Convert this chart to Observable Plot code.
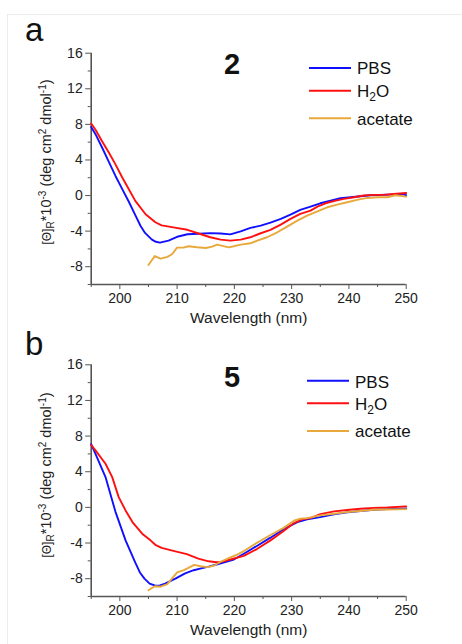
<!DOCTYPE html>
<html><head><meta charset="utf-8">
<script src="https://cdn.jsdelivr.net/npm/d3@7"></script>
<script src="https://cdn.jsdelivr.net/npm/@observablehq/plot@0.6"></script>
<style>
body{margin:0;background:#fff;}
#fig{position:relative;width:462px;height:644px;overflow:hidden;font-family:"Liberation Sans",Arial,sans-serif;}
#border{position:absolute;left:7px;top:14px;width:470px;height:640px;border-left:1px solid #ececec;border-top:1px solid #ececec;}
.panel{position:absolute;left:0;}
</style></head><body><div id="fig"><div id="border"></div></div>
<script>
// ---- data ----
const seriesNames = ["PBS", "H2O", "acetate"];
const seriesColors = ["#1010ff", "#ff1010", "#e8a83a"];
const xMajorTicks = [200, 210, 220, 230, 240, 250];
const xMinorTicks = [195, 205, 215, 225, 235, 245];
const yMajorTicks = [-8, -4, 0, 4, 8, 12, 16];
const yMinorTicks = [-10, -6, -2, 2, 6, 10, 14];
const panelLetters = ["a", "b"];
const compoundLabels = ["2", "5"];

// panel a (compound 2)
const wl_pbs_2 = [195,195.75,196.9,198.1,199.24,200.4,201.57,202.7,203.6,204.4,205.6,206.3,207.0,208.5,210.2,211.8,213.7,215.8,217.6,219.3,221.1,222.8,224.6,226.3,228.1,229.8,231.5,233.3,235.0,236.8,238.5,240.3,242.0,243.8,245.5,247.3,249.0,250];
const cd_pbs_2 = [7.7,6.9,5.4,3.75,2.2,0.75,-0.7,-2.2,-3.4,-4.2,-4.95,-5.2,-5.3,-5.06,-4.6,-4.35,-4.3,-4.22,-4.26,-4.36,-4.02,-3.64,-3.38,-3.04,-2.63,-2.14,-1.62,-1.24,-0.87,-0.57,-0.31,-0.19,-0.08,0.03,0.07,0.11,0.18,0.05];
const wl_h2o_2 = [195,195.75,196.9,198.1,199.24,200.4,201.57,202.7,204.5,206.2,207.3,209.6,211.8,214.3,215.8,217.6,219.3,221.1,222.8,224.6,226.3,228.1,229.8,231.5,233.3,234.5,235.9,237.7,239.1,240.9,242.6,244.4,246.1,247.8,250];
const cd_h2o_2 = [8.1,7.4,6.1,4.8,3.5,2.05,0.7,-0.6,-2.1,-3.0,-3.35,-3.6,-3.85,-4.38,-4.69,-4.96,-5.07,-4.96,-4.69,-4.24,-3.87,-3.27,-2.63,-2.07,-1.69,-1.24,-0.87,-0.57,-0.38,-0.19,0,0.07,0.07,0.18,0.29];
const wl_ace_2 = [205.0,206.1,207.1,208.3,209.1,210.0,211.1,212.0,213.5,215.0,216.1,217.0,217.9,219.0,219.9,221.1,222.8,224.0,225.7,227.5,229.2,231.0,232.7,234.5,236.2,237.95,239.7,241.4,243.2,244.9,246.7,248.1,250];
const cd_ace_2 = [-7.8,-6.8,-7.1,-6.9,-6.6,-5.85,-5.85,-5.7,-5.82,-5.9,-5.75,-5.52,-5.65,-5.82,-5.7,-5.52,-5.37,-5.07,-4.69,-4.13,-3.49,-2.82,-2.26,-1.77,-1.32,-1.02,-0.76,-0.49,-0.27,-0.19,-0.19,0.03,-0.12];

// panel b (compound 5)
const wl_pbs_5 = [195,195.75,197.5,199.24,201.0,202.7,203.5,204.3,205.2,206.2,207.0,207.9,209.7,211.4,212.9,214.2,215.5,217.2,219.9,221.65,224.0,226.3,228.6,231.0,232.7,235.0,237.4,239.7,242.0,244.3,246.7,250];
const cd_pbs_5 = [7.1,6.0,3.4,-0.5,-3.7,-6.2,-7.3,-8.0,-8.55,-8.78,-8.75,-8.56,-8.0,-7.4,-7.05,-6.85,-6.65,-6.35,-5.85,-5.2,-4.3,-3.4,-2.45,-1.65,-1.35,-1.09,-0.79,-0.56,-0.41,-0.26,-0.19,-0.11];
const wl_h2o_5 = [195,195.75,197.5,198.67,199.8,201.0,202.2,203.9,205.35,206.2,207.3,209.7,211.7,213.7,215.5,216.9,217.5,219.3,221.65,224.0,226.3,228.6,230.4,231.8,233.3,235.0,237.4,239.7,242.0,244.3,246.7,250];
const cd_h2o_5 = [7.0,6.4,4.9,3.4,1.15,-0.34,-1.65,-2.95,-3.7,-4.2,-4.55,-4.93,-5.25,-5.75,-6.05,-6.15,-6.15,-5.85,-5.45,-4.65,-3.7,-2.65,-1.76,-1.35,-1.2,-0.75,-0.45,-0.3,-0.15,-0.05,-0.02,0.11];
const wl_ace_5 = [205.0,206.1,207.1,208.3,210.0,211.2,213.0,214.1,215.3,216.4,217.6,219.3,220.5,221.65,224.0,226.3,228.6,230.4,231.5,232.7,235.0,237.4,239.7,242.0,244.3,246.7,250];
const cd_ace_5 = [-9.3,-8.85,-8.9,-8.6,-7.3,-7.05,-6.45,-6.6,-6.7,-6.55,-6.1,-5.6,-5.3,-4.9,-3.95,-3.1,-2.3,-1.5,-1.27,-1.2,-0.9,-0.71,-0.53,-0.41,-0.26,-0.23,-0.19];

// ---- drawing ----
const FONT = '"Liberation Sans", Arial, sans-serif';

function rows(name, wl, cd) { return wl.map((x, i) => ({x, y: cd[i], name})); }

function panel(cfg) {
  const data = [
    ...rows("PBS", cfg.wl[0], cfg.cd[0]),
    ...rows("H2O", cfg.wl[1], cfg.cd[1]),
    ...rows("acetate", cfg.wl[2], cfg.cd[2])
  ];
  const svg = Plot.plot({
    width: 462, height: cfg.height,
    marginLeft: 90.7, marginRight: 56.3, marginTop: cfg.mt, marginBottom: cfg.mb,
    style: {fontFamily: FONT, fontSize: "14px", color: "#222", background: "transparent", overflow: "visible"},
    x: {domain: [195, 250]},
    y: {domain: [-10, 16]},
    color: {domain: seriesNames, range: seriesColors},
    marks: [
      Plot.axisY({ticks: yMajorTicks, tickSize: 5.5, tickPadding: 3, label: null, stroke: "#555", tickFormat: d => String(d)}),
      Plot.axisY({ticks: yMinorTicks, tickSize: 3, text: null, label: null, stroke: "#555"}),
      Plot.axisX({ticks: xMajorTicks, tickSize: 5, tickPadding: 4, label: null, stroke: "#555", tickFormat: d => String(d)}),
      Plot.axisX({ticks: xMinorTicks, tickSize: 3, text: null, label: null, stroke: "#555"}),
      Plot.ruleX([195], {stroke: "#555", strokeWidth: 1.6}),
      Plot.ruleY([-10], {stroke: "#555", strokeWidth: 1.6}),
      Plot.line(data, {x: "x", y: "y", z: "name", stroke: "name", strokeWidth: 1.9}),
      Plot.text(["Wavelength (nm)"], {frameAnchor: "bottom", dy: 38, text: d => d, fontSize: 15.5, fill: "#222", lineAnchor: "bottom"})
    ]
  });
  const s = d3.select(svg);
  // panel letter
  s.append("text").attr("x", 25).attr("y", cfg.letterY).attr("text-anchor", "start").attr("font-size", 33).attr("font-family", FONT).attr("fill", "#111").text(cfg.letter);
  // compound number
  s.append("text").attr("x", 232).attr("y", cfg.numY).attr("text-anchor", "middle").attr("font-size", 29).attr("font-weight", "bold").attr("font-family", FONT).attr("fill", "#111").text(cfg.num);
  // y label
  const yl = s.append("text").attr("transform", `translate(51,${cfg.ylY}) rotate(-90)`).attr("text-anchor", "middle")
    .attr("font-size", 14.5).attr("font-family", FONT).attr("fill", "#222");
  yl.append("tspan").attr("font-size", 12).text("[\u0398]");
  yl.append("tspan").attr("dy", 3).attr("font-size", 10).text("R");
  yl.append("tspan").attr("dy", -3).text("*10");
  yl.append("tspan").attr("dy", -5.5).attr("font-size", 10).text("-3");
  yl.append("tspan").attr("dy", 5.5).text(" (deg cm");
  yl.append("tspan").attr("dy", -5.5).attr("font-size", 10).text("2");
  yl.append("tspan").attr("dy", 5.5).text(" dmol");
  yl.append("tspan").attr("dy", -5.5).attr("font-size", 10).text("-1");
  yl.append("tspan").attr("dy", 5.5).text(")");
  // legend
  seriesNames.forEach((n, i) => {
    s.append("line").attr("x1", cfg.legX).attr("x2", cfg.legX + 42).attr("y1", cfg.legLineY[i]).attr("y2", cfg.legLineY[i])
      .attr("stroke", seriesColors[i]).attr("stroke-width", 1.9);
    const t = s.append("text").attr("x", cfg.legX + 48).attr("y", cfg.legTextY[i]).attr("text-anchor", "start")
      .attr("font-size", 17).attr("font-family", FONT).attr("fill", "#111");
    if (n === "H2O") {
      t.append("tspan").text("H");
      t.append("tspan").attr("dy", 4).attr("font-size", 12).text("2");
      t.append("tspan").attr("dy", -4).text("O");
    } else t.text(n);
  });
  svg.classList.add("panel");
  svg.style.top = cfg.top + "px";
  svg.style.position = "absolute";
  return svg;
}

const fig = document.getElementById("fig");
fig.appendChild(panel({
  top: 0, height: 330, mt: 52.7, mb: 46,
  wl: [wl_pbs_2, wl_h2o_2, wl_ace_2], cd: [cd_pbs_2, cd_h2o_2, cd_ace_2],
  letter: panelLetters[0], letterY: 41, num: compoundLabels[0], numY: 74, ylY: 162,
  legX: 309, legLineY: [68, 90.7, 118.3], legTextY: [74, 97.3, 125]
}));
fig.appendChild(panel({
  top: 330, height: 314, mt: 34.3, mb: 48,
  wl: [wl_pbs_5, wl_h2o_5, wl_ace_5], cd: [cd_pbs_5, cd_h2o_5, cd_ace_5],
  letter: panelLetters[1], letterY: 25, num: compoundLabels[1], numY: 56.7, ylY: 145,
  legX: 307, legLineY: [50.7, 73.3, 101], legTextY: [57.7, 80, 107.3]
}));
</script>
</body></html>
